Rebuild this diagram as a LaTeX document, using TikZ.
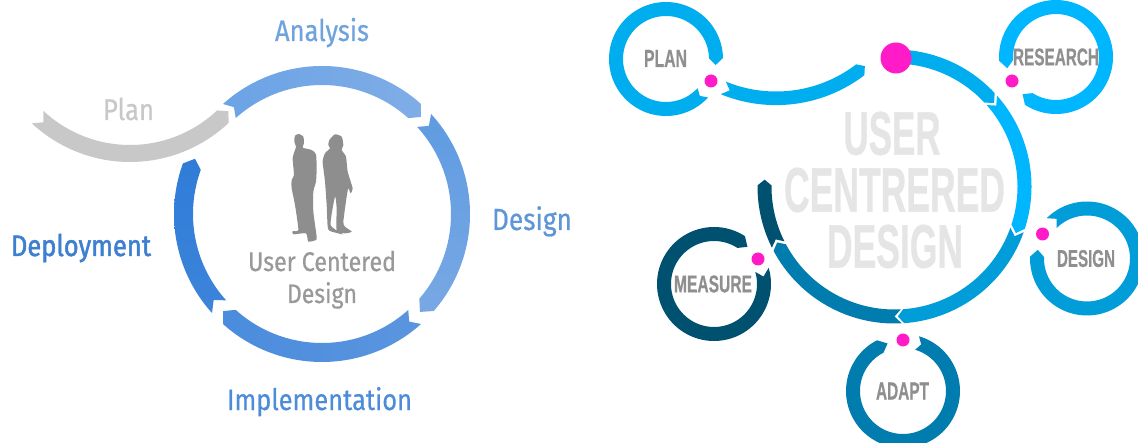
\documentclass[tikz,border=0pt]{standalone}
\usepackage{graphicx}
\usepackage{fontspec}
\setmainfont{Fira Sans}[FakeStretch=0.86,FakeBold=0.5]
\newfontfamily\deployfont{Fira Sans}[FakeStretch=0.86,FakeBold=1.6]
\newfontfamily\capsfont{Liberation Sans}[FakeBold=0.7]
\definecolor{lgray}{HTML}{C8C8C8}
\definecolor{fig}{HTML}{8E8E8E}
\definecolor{capgray}{HTML}{8F8F8F}
\definecolor{cengray}{HTML}{E5E5E5}
\definecolor{mag}{HTML}{FF1BC8}
\definecolor{cA}{HTML}{00AEEF}
\definecolor{cB}{HTML}{00B6FF}
\definecolor{cC}{HTML}{009DD9}
\definecolor{cD}{HTML}{007DAE}
\definecolor{cE}{HTML}{005070}
\definecolor{anaL}{HTML}{6BA3E6}
\definecolor{anaR}{HTML}{7FADE6}
\definecolor{desT}{HTML}{5F9BE1}
\definecolor{desB}{HTML}{78A8E4}
\definecolor{impL}{HTML}{4A8CDD}
\definecolor{impR}{HTML}{5B95DF}
\definecolor{depT}{HTML}{2F7CD8}
\definecolor{depB}{HTML}{3D84DA}
\definecolor{tAna}{HTML}{6FA3DE}
\definecolor{tDes}{HTML}{5F96D6}
\definecolor{tDep}{HTML}{3F7FCF}
\definecolor{tImp}{HTML}{4C8CD8}
\definecolor{tUcd}{HTML}{999999}
% cx, cy, Router, Rinner, tail angle, head angle, tail notch, head point, style
\newcommand{\ringseg}[9]{%
  \path[#9]
    plot[domain=0:1,samples=90,variable=\t] ({#1+#3*cos(#5+(#6-#5)*\t)},{#2+#3*sin(#5+(#6-#5)*\t)})
    -- ({#1+0.5*(#3+#4)*cos(#6+#8)},{#2+0.5*(#3+#4)*sin(#6+#8)})
    -- plot[domain=0:1,samples=90,variable=\t] ({#1+#4*cos(#6+(#5-#6)*\t)},{#2+#4*sin(#6+(#5-#6)*\t)})
    -- ({#1+0.5*(#3+#4)*cos(#5+#7)},{#2+0.5*(#3+#4)*sin(#5+#7)})
    -- cycle;}
\newcommand{\wfit}[2]{\resizebox{#1pt}{!}{#2}}
\newcommand{\bfit}[3]{\resizebox{#1pt}{#2pt}{\capsfont\bfseries #3}}
\tikzset{
  labeltext/.style={anchor=base,inner sep=0pt,outer sep=0pt},
  captext/.style={inner sep=0pt,outer sep=0pt,text=capgray},
  centext/.style={inner sep=0pt,outer sep=0pt,text=cengray},
  pinkdot/.style={circle,fill=mag,inner sep=0pt,minimum size=13pt},
  bigdot/.style={circle,fill=mag,inner sep=0pt,minimum size=31pt}
}
\begin{document}
\begin{tikzpicture}[x=1pt,y=-1pt]
\useasboundingbox (0,0) rectangle (1138,443);
\clip (0,0) rectangle (1138,443);
\fill[white] (0,0) rectangle (1138,443);
%% LEFT DIAGRAM
\ringseg{130}{18}{144}{127}{133}{46.7}{-3.3}{-3.2}{fill=lgray}
\ringseg{322}{214}{148}{129}{228}{312}{2.5}{3.5}{left color=anaL,right color=anaR}
\ringseg{322}{214}{148}{129}{317.5}{401}{3}{4}{top color=desT,bottom color=desB}
\ringseg{322}{214}{148}{129}{48}{132}{3}{3.5}{left color=impL,right color=impR}
\ringseg{322}{214}{148}{129}{138}{200}{3.5}{3.5}{top color=depT,bottom color=depB}
% silhouettes
\begin{scope}[shift={(280,125)},x=0.3333pt,y=-0.3333pt]
\fill[fig] plot[smooth cycle,tension=0.35] coordinates {(45,32)(57,27)(70,35)(72,55)(68,68)(95,75)(108,88)(110,130)(108,170)(100,200)(100,260)(110,335)(108,345)(85,350)(78,325)(40,328)(38,318)(55,315)(45,240)(35,190)(35,165)(42,150)(38,100)(45,75)(48,65)(43,50)};
\fill[fig] plot[smooth cycle,tension=0.35] coordinates {(148,45)(165,28)(185,35)(190,60)(185,75)(198,95)(203,140)(218,190)(212,205)(205,190)(200,215)(190,290)(195,305)(215,320)(195,325)(170,315)(170,250)(165,215)(152,300)(190,328)(150,318)(143,305)(140,240)(135,170)(128,110)(135,85)(150,70)(145,60)};
\end{scope}
\node[labeltext,text=tAna] (lanalysis) at (322,41) {\wfit{94}{Analysis}};
\node[labeltext,text=lgray] (lplan) at (128.5,120) {\wfit{51}{Plan}};
\node[labeltext,text=tDes] (ldesign) at (532,230) {\wfit{80}{Design}};
\node[labeltext,text=tDep] (ldeploy) at (81,256) {\wfit{140}{\deployfont Deployment}};
\node[labeltext,text=tImp] (limpl) at (319.5,410) {\wfit{185}{Implementation}};
\node[labeltext,text=tUcd] (lucd) at (322,271) {\wfit{148}{User Centered}};
\node[labeltext,text=tUcd] (lucdb) at (322,303) {\wfit{70}{Design}};
%% RIGHT DIAGRAM
% main ring
\ringseg{776}{-40.5}{145.6}{132}{112.3}{52.6}{-2.8}{-2.4}{fill=cA}
\ringseg{894.5}{186.5}{137}{123}{275}{317}{0}{3}{fill=cA}
\ringseg{894.5}{186.5}{137}{123}{318.5}{378}{3}{3}{fill=cB}
\ringseg{894.5}{186.5}{137}{123}{19.5}{86}{3}{2.5}{fill=cC}
\ringseg{894.5}{186.5}{137}{123}{87}{152}{3}{2.5}{fill=cD}
\ringseg{894.5}{186.5}{137}{123}{153.5}{180.5}{2.5}{2.5}{fill=cE}
% small rings
\ringseg{666}{59}{57}{43}{42.5}{359}{5}{8}{fill=cA}
\ringseg{1056}{57}{57}{43}{123}{-184}{9}{-9}{fill=cB}
\ringseg{1087}{258.5}{57}{43}{225}{542}{7.5}{8}{fill=cC}
\ringseg{714}{284}{57}{43}{-16.5}{303}{8}{9}{fill=cE}
\ringseg{903}{391}{57}{43}{-73.7}{243}{5}{9}{fill=cD}
% dots
\node[bigdot] (dmain) at (896,58) {};
\node[pinkdot] (dplan) at (711,81) {};
\node[pinkdot] (dresearch) at (1012,81) {};
\node[pinkdot] (ddesign) at (1042.5,234) {};
\node[pinkdot] (dmeasure) at (758,259) {};
\node[pinkdot] (dadapt) at (903,340) {};
% labels
\node[captext] (tplan) at (665.5,58.5) {\bfit{43}{17}{PLAN}};
\node[captext] (tresearch) at (1056,57) {\bfit{86}{17}{RESEARCH}};
\node[captext] (tdesign) at (1086,258.5) {\bfit{58}{17}{DESIGN}};
\node[captext] (tmeasure) at (713,284) {\bfit{78}{17}{MEASURE}};
\node[captext] (tadapt) at (902.5,391) {\bfit{53}{17}{ADAPT}};
\node[centext] (cuser) at (892,133.5) {\bfit{97}{43}{USER}};
\node[centext] (ccent) at (894.5,190) {\bfit{221}{44}{CENTRERED}};
\node[centext] (cdes) at (895,246.5) {\bfit{136}{43}{DESIGN}};
\end{tikzpicture}
\end{document}
